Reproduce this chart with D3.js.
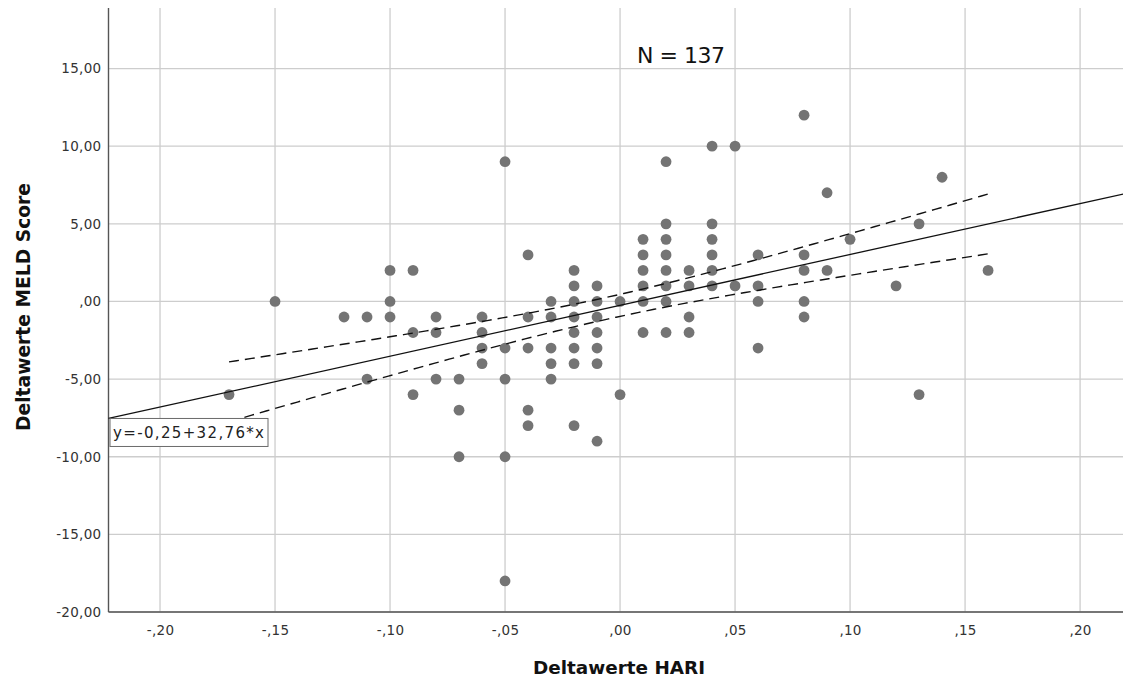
<!DOCTYPE html>
<html>
<head>
<meta charset="utf-8">
<script src="https://cdn.jsdelivr.net/npm/d3@7"></script>
<style>
  html, body { margin: 0; padding: 0; background: #ffffff; }
  svg { display: block; }
</style>
</head>
<body>
<svg id="chart" width="1123" height="682"></svg>
<script>
// ---- data (overlapping points are drawn once) ----
const hariDelta = [
  -0.17,
  -0.15,
  -0.12,
  -0.11, -0.11,
  -0.10, -0.10, -0.10,
  -0.09, -0.09, -0.09,
  -0.08, -0.08, -0.08,
  -0.07, -0.07, -0.07,
  -0.06, -0.06, -0.06, -0.06,
  -0.05, -0.05, -0.05, -0.05, -0.05,
  -0.04, -0.04, -0.04, -0.04, -0.04,
  -0.03, -0.03, -0.03, -0.03, -0.03,
  -0.02, -0.02, -0.02, -0.02, -0.02, -0.02, -0.02, -0.02,
  -0.01, -0.01, -0.01, -0.01, -0.01, -0.01, -0.01,
  0.00, 0.00,
  0.01, 0.01, 0.01, 0.01, 0.01, 0.01,
  0.02, 0.02, 0.02, 0.02, 0.02, 0.02, 0.02, 0.02,
  0.03, 0.03, 0.03, 0.03,
  0.04, 0.04, 0.04, 0.04, 0.04, 0.04,
  0.05, 0.05,
  0.06, 0.06, 0.06, 0.06,
  0.08, 0.08, 0.08, 0.08, 0.08,
  0.09, 0.09,
  0.10,
  0.12,
  0.13, 0.13,
  0.14,
  0.16
];
const meldDelta = [
  -6,
  0,
  -1,
  -1, -5,
  2, 0, -1,
  2, -2, -6,
  -1, -2, -5,
  -5, -7, -10,
  -1, -2, -3, -4,
  9, -3, -5, -10, -18,
  3, -1, -3, -7, -8,
  0, -1, -3, -4, -5,
  2, 1, 0, -1, -2, -3, -4, -8,
  1, 0, -1, -2, -3, -4, -9,
  0, -6,
  4, 3, 2, 1, 0, -2,
  9, 5, 4, 3, 2, 1, 0, -2,
  2, 1, -1, -2,
  10, 5, 4, 3, 2, 1,
  10, 1,
  3, 1, 0, -3,
  12, 3, 2, 0, -1,
  7, 2,
  4,
  1,
  5, -6,
  8,
  2
];
const xTicks = [-0.20, -0.15, -0.10, -0.05, 0.00, 0.05, 0.10, 0.15, 0.20];
const yTicks = [-20, -15, -10, -5, 0, 5, 10, 15];
const sampleSize = 137;
const fitIntercept = -0.25;
const fitSlope = 32.76;
const equationLabel = "y=-0,25+32,76*x";
const xTitle = "Deltawerte HARI";
const yTitle = "Deltawerte MELD Score";

// ---- layout ----
const svg = d3.select("#chart");
const plotLeft = 108.5, plotTop = 8, plotBottom = 612, plotRight = 1131.6;
const x = d3.scaleLinear().domain([-0.2224, 0.2224]).range([plotLeft, plotRight]);
const y = d3.scaleLinear().domain([-20, 18.9]).range([plotBottom, plotTop]);

const fmt = v => {
  const s = Math.abs(v).toFixed(2).replace(".", ",");
  const t = s.startsWith("0,") ? s.slice(1) : s;
  return (v < -1e-9 ? "-" : "") + t;
};
const fmtY = v => {
  if (v === 0) return ",00";
  return (v < 0 ? "-" : "") + Math.abs(v).toFixed(2).replace(".", ",");
};

// background
svg.append("rect").attr("width", 1123).attr("height", 682).attr("fill", "#ffffff");

// gridlines
const grid = svg.append("g");
grid.selectAll("line.v").data(xTicks).join("line")
  .attr("x1", d => x(d)).attr("x2", d => x(d))
  .attr("y1", plotTop).attr("y2", plotBottom)
  .attr("stroke", "#cdcdcd").attr("stroke-width", 1.3);
grid.selectAll("line.h").data(yTicks).join("line")
  .attr("x1", plotLeft).attr("x2", plotRight)
  .attr("y1", d => y(d)).attr("y2", d => y(d))
  .attr("stroke", "#cdcdcd").attr("stroke-width", 1.3);

// axes with d3 axis generators (no tick marks, labels only)
const xAxis = d3.axisBottom(x).tickValues(xTicks).tickFormat(fmt).tickSize(0).tickPadding(13);
const yAxis = d3.axisLeft(y).tickValues(yTicks).tickFormat(fmtY).tickSize(0).tickPadding(7);

const gx = svg.append("g").attr("transform", `translate(0,${plotBottom})`).call(xAxis);
const gy = svg.append("g").attr("transform", `translate(${plotLeft},0)`).call(yAxis);
[gx, gy].forEach(g => {
  g.select(".domain").remove();
  g.selectAll("text")
    .attr("font-family", "DejaVu Sans")
    .attr("font-size", 13.5)
    .attr("fill", "#333333")
    .attr("letter-spacing", 0.3);
});

// axis lines
svg.append("line").attr("x1", plotLeft).attr("x2", plotLeft).attr("y1", plotTop).attr("y2", plotBottom)
  .attr("stroke", "#555555").attr("stroke-width", 1.4);
svg.append("line").attr("x1", plotLeft).attr("x2", plotRight).attr("y1", plotBottom).attr("y2", plotBottom)
  .attr("stroke", "#555555").attr("stroke-width", 1.4);

// points
const pts = hariDelta.map((h, i) => ({ h, m: meldDelta[i] }));
svg.append("g").selectAll("circle").data(pts).join("circle")
  .attr("cx", d => x(d.h)).attr("cy", d => y(d.m)).attr("r", 5.4)
  .attr("fill", "#747474");

// regression line
const xd = x.domain();
svg.append("line")
  .attr("x1", x(xd[0])).attr("y1", y(fitIntercept + fitSlope * xd[0]))
  .attr("x2", x(xd[1])).attr("y2", y(fitIntercept + fitSlope * xd[1]))
  .attr("stroke", "#111111").attr("stroke-width", 1.3);

// 95% confidence band for the mean: spread statistics from the plotted data,
// sample size as reported (N = 137)
const n = sampleSize;
const xbar = d3.mean(hariDelta);
const varX = d3.mean(hariDelta, v => (v - xbar) ** 2);
const sxx = varX * n;
const resid = pts.map(d => d.m - (fitIntercept + fitSlope * d.h));
const s = Math.sqrt(d3.sum(resid, r => r * r) / (pts.length - 2));
const tCrit = 1.978;
const [xmin, xmax] = d3.extent(hariDelta);
const band = d3.range(0, 101).map(i => {
  const xv = xmin + (xmax - xmin) * i / 100;
  const fit = fitIntercept + fitSlope * xv;
  const hw = tCrit * s * Math.sqrt(1 / n + (xv - xbar) ** 2 / sxx);
  return { xv, lo: fit - hw, hi: fit + hw };
});
["lo", "hi"].forEach(k => {
  svg.append("path")
    .datum(band)
    .attr("d", d3.line().x(d => x(d.xv)).y(d => y(d[k])))
    .attr("fill", "none")
    .attr("stroke", "#111111").attr("stroke-width", 1.4)
    .attr("stroke-dasharray", "10,6");
});

// equation label box
const boxTop = y(fitIntercept + fitSlope * xd[0]);
svg.append("rect")
  .attr("x", plotLeft + 1.5).attr("y", boxTop).attr("width", 158).attr("height", 28)
  .attr("fill", "#ffffff").attr("stroke", "#6a6a6a").attr("stroke-width", 1);
svg.append("text")
  .attr("x", plotLeft + 4.5).attr("y", boxTop + 19.5)
  .attr("font-family", "DejaVu Sans").attr("font-size", 15)
  .attr("textLength", 151).attr("lengthAdjust", "spacing")
  .attr("fill", "#222222")
  .text(equationLabel);

// N label
svg.append("text")
  .attr("x", 637).attr("y", 63)
  .attr("font-family", "DejaVu Sans").attr("font-size", 22)
  .attr("textLength", 88).attr("lengthAdjust", "spacing")
  .attr("fill", "#111111")
  .text(`N = ${sampleSize}`);

// axis titles
svg.append("text")
  .attr("x", (plotLeft + plotRight) / 2 - 1).attr("y", 674)
  .attr("text-anchor", "middle")
  .attr("font-family", "DejaVu Sans").attr("font-weight", "bold").attr("font-size", 18.4)
  .attr("fill", "#111111")
  .text(xTitle);
svg.append("text")
  .attr("transform", `translate(30,307) rotate(-90)`)
  .attr("text-anchor", "middle")
  .attr("font-family", "DejaVu Sans").attr("font-weight", "bold").attr("font-size", 18.7)
  .attr("fill", "#111111")
  .text(yTitle);
</script>
</body>
</html>
